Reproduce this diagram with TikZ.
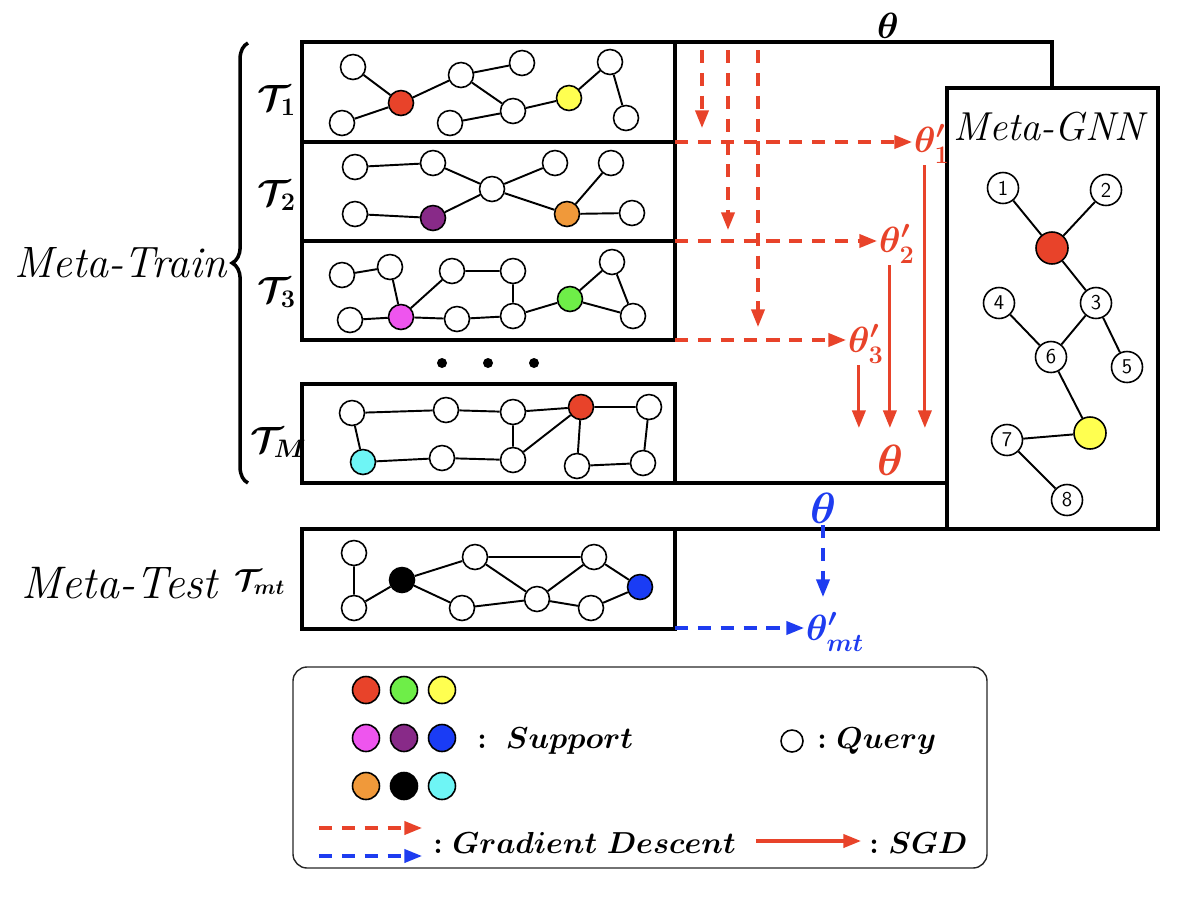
\documentclass[tikz,border=0pt]{standalone}
\usepackage{amsmath,amssymb}
\usepackage{tikz}
\usetikzlibrary{arrows.meta, positioning, decorations.pathreplacing}
\definecolor{gdred}{RGB}{232,67,42}
\definecolor{gdblue}{RGB}{30,60,240}
\definecolor{cred}{RGB}{232,67,42}
\definecolor{cyellow}{RGB}{255,255,80}
\definecolor{cpurple}{RGB}{136,42,136}
\definecolor{corange}{RGB}{240,153,58}
\definecolor{cpink}{RGB}{238,85,238}
\definecolor{cgreen}{RGB}{110,238,72}
\definecolor{ccyan}{RGB}{110,245,245}
\definecolor{cblue}{RGB}{26,60,245}
\tikzset{>/.tip={Triangle[length=10pt,width=7.5pt]}}
\tikzset{qry/.style={circle, draw, fill=white, line width=0.9pt, minimum size=0.5cm, inner sep=0pt}}
\tikzset{spt/.style={qry, fill=#1}}
\tikzset{gnn/.style={qry, minimum size=0.62cm, font=\fontsize{12}{14}\sffamily\selectfont}}
\tikzset{frame/.style={line width=2.3pt}}
\tikzset{link/.style={line width=1.1pt}}
\tikzset{gd/.style={->, line width=1.8pt, dash pattern=on 7.5pt off 5.5pt}}
\tikzset{sgd/.style={->, line width=1.8pt, gdred}}
\tikzset{big/.style={font=\fontsize{25}{29}\selectfont, inner sep=0pt}}
\tikzset{tau/.style={font=\fontsize{20}{24}\selectfont, inner sep=0pt, anchor=base west}}
\tikzset{par/.style={font=\fontsize{20}{24}\selectfont, inner sep=1pt, anchor=base west}}
\tikzset{lgd/.style={font=\fontsize{18}{22}\selectfont, inner sep=0pt, anchor=base west}}

\begin{document}
\begin{tikzpicture}[x=0.02cm, y=-0.02cm]
\useasboundingbox (0,0) rectangle (1180,900);
% frames
\draw[frame] (302,42) rectangle (675,142);
\draw[frame] (302,142) rectangle (675,241);
\draw[frame] (302,241) rectangle (675,340);
\draw[frame] (302,384) rectangle (675,483);
\draw[frame] (302,529) rectangle (675,629);
\draw[frame] (947,88) rectangle (1158,529);
\draw[frame] (675,42) -- (1052,42) -- (1052,88);
\draw[frame] (675,483) -- (947,483);
\draw[frame] (675,529) -- (947,529);
\fill (442,363) circle (0.1cm) (488,363) circle (0.1cm) (534,363) circle (0.1cm);

% task 1
\node[qry] (a1) at (353,67) {};
\node[qry] (b1) at (342,123) {};
\node[spt=cred] (r1) at (401,103) {};
\node[qry] (c1) at (461,75) {};
\node[qry] (d1) at (522,63) {};
\node[qry] (e1) at (450,123) {};
\node[qry] (f1) at (513,111) {};
\node[spt=cyellow] (y1) at (569,98) {};
\node[qry] (g1) at (610,62) {};
\node[qry] (h1) at (626,118) {};
\draw[link] (a1) -- (r1) -- (c1) -- (d1) (b1) -- (r1) (c1) -- (f1) (e1) -- (f1) -- (y1) -- (g1) -- (h1);

% task 2
\node[qry] (a2) at (355,167) {};
\node[qry] (b2) at (433,163) {};
\node[qry] (c2) at (492,189) {};
\node[qry] (d2) at (555,163) {};
\node[qry] (e2) at (611,163) {};
\node[qry] (f2) at (355,214) {};
\node[spt=cpurple] (p2) at (433,218) {};
\node[spt=corange] (o2) at (567,214) {};
\node[qry] (g2) at (632,213) {};
\draw[link] (a2) -- (b2) -- (c2) -- (d2) (f2) -- (p2) -- (c2) -- (o2) -- (e2) (o2) -- (g2);

% task 3
\node[qry] (a3) at (342,275) {};
\node[qry] (b3) at (390,267) {};
\node[qry] (c3) at (452,271) {};
\node[qry] (d3) at (513,271) {};
\node[qry] (e3) at (612,262) {};
\node[qry] (f3) at (350,320) {};
\node[spt=cpink] (m3) at (401,317) {};
\node[qry] (g3) at (457,319) {};
\node[qry] (h3) at (513,316) {};
\node[spt=cgreen] (n3) at (570,299) {};
\node[qry] (i3) at (633,316) {};
\draw[link] (a3) -- (b3) -- (m3) -- (c3) -- (d3) -- (h3) (f3) -- (m3) -- (g3) -- (h3) -- (n3) -- (e3) -- (i3) -- (n3);

% task M
\node[qry] (aM) at (352,413) {};
\node[qry] (bM) at (446,410) {};
\node[qry] (cM) at (513,412) {};
\node[spt=cred] (rM) at (581,407) {};
\node[qry] (dM) at (649,407) {};
\node[spt=ccyan] (kM) at (363,462) {};
\node[qry] (eM) at (442,458) {};
\node[qry] (fM) at (513,460) {};
\node[qry] (gM) at (577,466) {};
\node[qry] (hM) at (643,463) {};
\draw[link] (aM) -- (bM) -- (cM) -- (rM) -- (dM) -- (hM) -- (gM) -- (rM) -- (fM) -- (cM) (aM) -- (kM) -- (eM) -- (fM);

% meta-test task
\node[qry] (a5) at (354,553) {};
\node[qry] (b5) at (354,608) {};
\node[spt=black] (k5) at (402,580) {};
\node[qry] (c5) at (475,557) {};
\node[qry] (d5) at (462,608) {};
\node[qry] (e5) at (537,599) {};
\node[qry] (f5) at (594,557) {};
\node[qry] (g5) at (591,608) {};
\node[spt=cblue] (u5) at (640,587) {};
\draw[link] (a5) -- (b5) -- (k5) -- (c5) -- (f5) -- (u5) -- (g5) -- (e5) -- (d5) -- (k5) (c5) -- (e5) -- (f5);

% Meta-GNN
\node[font=\fontsize{23}{27}\selectfont, anchor=base, inner sep=0pt] (mgnn) at (1051,140) {\textit{Meta-GNN}};
\node[gnn] (n1) at (1003,188) {1};
\node[gnn] (n2) at (1106,190) {2};
\node[spt=cred, minimum size=0.64cm] (gr) at (1052,248) {};
\node[gnn] (n3) at (1096,303) {3};
\node[gnn] (n4) at (999,303) {4};
\node[gnn] (n6) at (1051,357) {6};
\node[gnn] (n5) at (1127,367) {5};
\node[spt=cyellow, minimum size=0.64cm] (gy) at (1090,433) {};
\node[gnn] (n7) at (1007,440) {7};
\node[gnn] (n8) at (1067,500) {8};
\draw[link] (n1) -- (gr) -- (n2) (gr) -- (n3) -- (n6) -- (n4) (n3) -- (n5) (n6) -- (gy) -- (n7) -- (n8);

% labels
\node[big, anchor=base east] (train) at (228,277) {\textit{Meta-Train}};
\draw[line width=2pt, decorate, decoration={brace, amplitude=9pt}] (248,483) -- (248,43);
\node[tau] (t1) at (257,110) {$\boldsymbol{\mathcal{T}_1}$};
\node[tau] (t2) at (257,205) {$\boldsymbol{\mathcal{T}_2}$};
\node[tau] (t3) at (257,302) {$\boldsymbol{\mathcal{T}_3}$};
\node[tau] (tM) at (250,452) {$\boldsymbol{\mathcal{T}_M}$};
\node[big, anchor=base east, font=\fontsize{26}{30}\selectfont] (test) at (220,598) {\textit{Meta-Test}};
\node[tau, font=\fontsize{18}{22}\selectfont] (tmt) at (234,590) {$\boldsymbol{\mathcal{T}_{mt}}$};

% parameters
\node[par, anchor=base] (th0) at (888,38) {$\boldsymbol{\theta}$};
\node[par, gdred] (th1) at (912,152) {$\boldsymbol{\theta'_1}$};
\node[par, gdred] (th2) at (877,252) {$\boldsymbol{\theta'_2}$};
\node[par, gdred] (th3) at (846,352) {$\boldsymbol{\theta'_3}$};
\node[par, gdred, anchor=base, font=\fontsize{28}{32}\selectfont] (thr) at (890,475) {$\boldsymbol{\theta}$};
\node[par, gdblue, anchor=base, font=\fontsize{27}{31}\selectfont] (thb) at (823,523) {$\boldsymbol{\theta}$};
\node[par, gdblue] (thmt) at (804,640) {$\boldsymbol{\theta'_{mt}}$};

% gradient descent
\coordinate (gA) at (702,50);
\coordinate (gB) at (728,50);
\coordinate (gC) at (758,50);
\draw[gd, gdred] (gA) -- (702,128);
\draw[gd, gdred] (gB) -- (728,230);
\draw[gd, gdred] (gC) -- (758,327);
\coordinate (k1) at (675,142);
\coordinate (k2) at (675,241);
\coordinate (k3) at (675,340);
\draw[gd, gdred] (k1) -- (k1 -| th1.west);
\draw[gd, gdred] (k2) -- (k2 -| th2.west);
\draw[gd, gdred] (k3) -- (k3 -| th3.west);
\coordinate (sgdend) at (0,428);
\draw[sgd] ([xshift=-4pt]th1.south) -- ([xshift=-4pt]th1.south |- sgdend);
\draw[sgd] ([xshift=-4pt]th2.south) -- ([xshift=-4pt]th2.south |- sgdend);
\draw[sgd] ([xshift=-4pt]th3.south) -- ([xshift=-4pt]th3.south |- sgdend);
\coordinate (k5) at (675,628);
\draw[gd, gdblue] (thb.south) -- (thb.south |- 0,597);
\draw[gd, gdblue] (k5) -- (k5 -| thmt.west);

% legend
\draw[line width=0.8pt, rounded corners=8pt, black!85] (293,667) rectangle (987,868);
\node[spt=cred, minimum size=0.54cm] (l1) at (366,690) {};
\node[spt=cgreen, minimum size=0.54cm] (l2) at (404,690) {};
\node[spt=cyellow, minimum size=0.54cm] (l3) at (442,690) {};
\node[spt=cpink, minimum size=0.54cm] (l4) at (366,738) {};
\node[spt=cpurple, minimum size=0.54cm] (l5) at (404,738) {};
\node[spt=cblue, minimum size=0.54cm] (l6) at (442,738) {};
\node[spt=corange, minimum size=0.54cm] (l7) at (366,786) {};
\node[spt=black, minimum size=0.54cm] (l8) at (404,786) {};
\node[spt=ccyan, minimum size=0.54cm] (l9) at (442,786) {};
\node[lgd] (lsup) at (477,748) {$\boldsymbol{:}$\ \ $\boldsymbol{Support}$};
\node[qry, minimum size=0.44cm] (lq) at (792,741) {};
\node[lgd] (lqry) at (817,748) {$\boldsymbol{:}$\ $\boldsymbol{Query}$};
\coordinate (lr1) at (319,828);
\coordinate (lr2) at (422,828);
\coordinate (lb1) at (319,856);
\coordinate (lb2) at (422,856);
\draw[gd, gdred] (lr1) -- (lr2);
\draw[gd, gdblue] (lb1) -- (lb2);
\node[lgd] (lgdt) at (433,853) {$\boldsymbol{:}$\ $\boldsymbol{Gradient\ Descent}$};
\coordinate (ls1) at (756,841);
\coordinate (ls2) at (861,841);
\draw[sgd] (ls1) -- (ls2);
\node[lgd] (lsgd) at (869,853) {$\boldsymbol{:}$\ $\boldsymbol{SGD}$};
\end{tikzpicture}
\end{document}
